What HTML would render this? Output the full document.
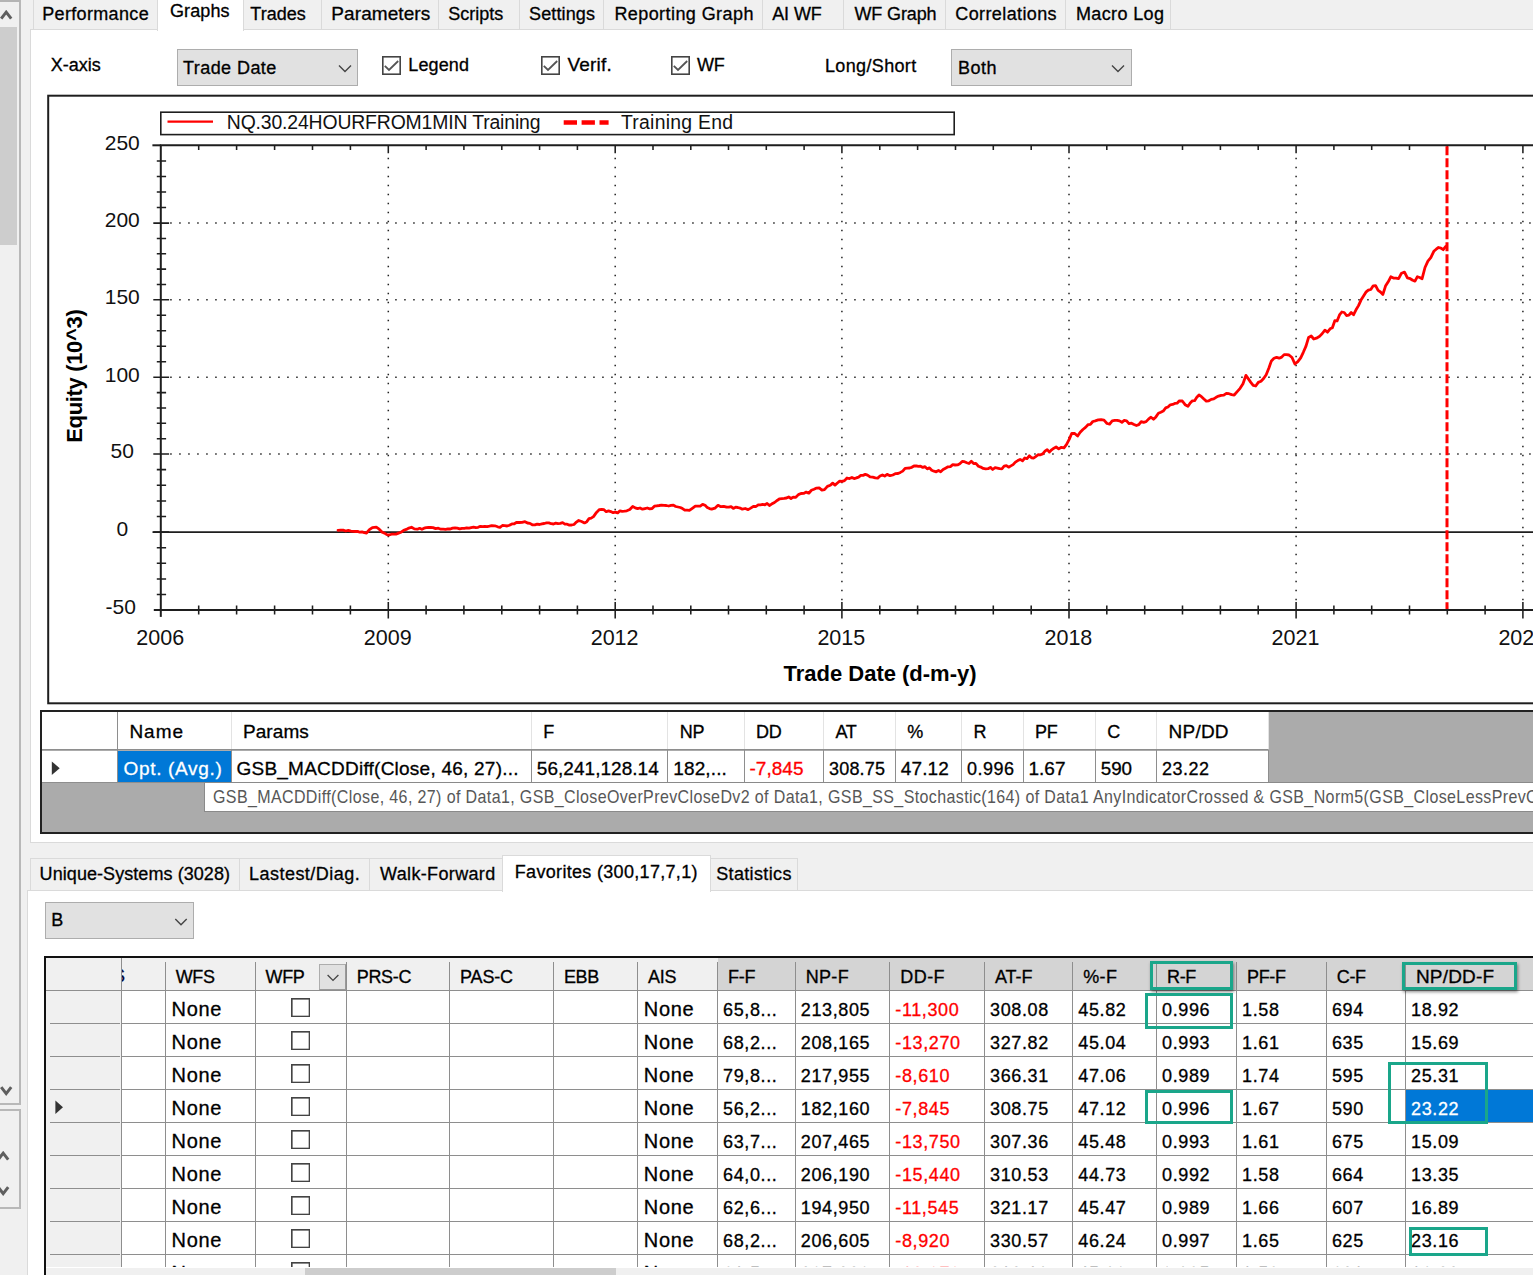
<!DOCTYPE html>
<html><head><meta charset="utf-8"><title>GSB</title>
<style>
html,body{margin:0;padding:0;}
html{width:1533px;height:1275px;overflow:hidden;}
body{width:1533px;height:1275px;overflow:hidden;background:#f0f0f0;font-family:"Liberation Sans", sans-serif;position:relative;}
.a{position:absolute;box-sizing:border-box;}
.t{position:absolute;white-space:pre;font-family:"Liberation Sans", sans-serif;-webkit-text-stroke:0.3px currentColor;}
svg{position:absolute;left:0;top:0;}
#root{position:absolute;left:0;top:0;width:1533px;height:1275px;overflow:hidden;contain:strict;}
</style></head><body><div id="root">
<div class="a " style="left:30px;top:29px;width:1510px;height:814px;background:#fff;border:1px solid #dadada;"></div>
<div class="a " style="left:33px;top:-3px;width:125.80000000000001px;height:33px;background:#f0f0f0;border:1px solid #dadada;"></div>
<span class="t" style="left:42.20px;top:4.00px;font-size:18px;line-height:20px;color:#000;letter-spacing:0.345px;">Performance</span>
<div class="a " style="left:156.8px;top:-3px;width:87.19999999999999px;height:34px;background:#fff;border:1px solid #dadada;border-bottom:none;"></div>
<span class="t" style="left:170.00px;top:1.00px;font-size:18px;line-height:20px;color:#000;letter-spacing:0.094px;">Graphs</span>
<div class="a " style="left:243px;top:-3px;width:79.39999999999998px;height:33px;background:#f0f0f0;border:1px solid #dadada;"></div>
<span class="t" style="left:250.30px;top:4.00px;font-size:18px;line-height:20px;color:#000;letter-spacing:0.029px;">Trades</span>
<div class="a " style="left:321.4px;top:-3px;width:117.90000000000003px;height:33px;background:#f0f0f0;border:1px solid #dadada;"></div>
<span class="t" style="left:331.30px;top:3.00px;font-size:19.0px;line-height:21px;color:#000;letter-spacing:0.088px;">Parameters</span>
<div class="a " style="left:438.3px;top:-3px;width:81.90000000000003px;height:33px;background:#f0f0f0;border:1px solid #dadada;"></div>
<span class="t" style="left:448.20px;top:4.00px;font-size:18px;line-height:20px;color:#000;">Scripts</span>
<div class="a " style="left:519.2px;top:-3px;width:85.0px;height:33px;background:#f0f0f0;border:1px solid #dadada;"></div>
<span class="t" style="left:529.00px;top:4.00px;font-size:18px;line-height:20px;color:#000;letter-spacing:0.137px;">Settings</span>
<div class="a " style="left:603.2px;top:-3px;width:160.0999999999999px;height:33px;background:#f0f0f0;border:1px solid #dadada;"></div>
<span class="t" style="left:614.40px;top:4.00px;font-size:18px;line-height:20px;color:#000;letter-spacing:0.423px;">Reporting Graph</span>
<div class="a " style="left:762.3px;top:-3px;width:81.90000000000009px;height:33px;background:#f0f0f0;border:1px solid #dadada;"></div>
<span class="t" style="left:772.20px;top:4.00px;font-size:18px;line-height:20px;color:#000;letter-spacing:-0.098px;">AI WF</span>
<div class="a " style="left:843.2px;top:-3px;width:102.79999999999995px;height:33px;background:#f0f0f0;border:1px solid #dadada;"></div>
<span class="t" style="left:854.40px;top:4.00px;font-size:18px;line-height:20px;color:#000;letter-spacing:-0.116px;">WF Graph</span>
<div class="a " style="left:945px;top:-3px;width:121.20000000000005px;height:33px;background:#f0f0f0;border:1px solid #dadada;"></div>
<span class="t" style="left:955.30px;top:4.00px;font-size:18px;line-height:20px;color:#000;letter-spacing:0.387px;">Correlations</span>
<div class="a " style="left:1065.2px;top:-3px;width:105.79999999999995px;height:33px;background:#f0f0f0;border:1px solid #dadada;"></div>
<span class="t" style="left:1076.00px;top:4.00px;font-size:18px;line-height:20px;color:#000;letter-spacing:0.369px;">Macro Log</span>
<span class="t" style="left:50.80px;top:55.00px;font-size:18px;line-height:20px;color:#000;">X-axis</span>
<div class="a " style="left:176.6px;top:48.6px;width:181.3px;height:37px;background:#e1e1e1;border:1px solid #adadad;"></div>
<span class="t" style="left:183.00px;top:58.00px;font-size:18px;line-height:20px;color:#000;letter-spacing:0.436px;">Trade Date</span>
<svg class="a" style="left:336.59999999999997px;top:62.599999999999994px" width="16" height="12" viewBox="0 0 16 12"><path d="M2 2.5 L8 8.5 L14 2.5" fill="none" stroke="#444" stroke-width="1.4"/></svg>
<div class="a " style="left:950.9px;top:48.6px;width:180.8px;height:37px;background:#e1e1e1;border:1px solid #adadad;"></div>
<span class="t" style="left:958.00px;top:58.00px;font-size:18px;line-height:20px;color:#000;letter-spacing:0.490px;">Both</span>
<svg class="a" style="left:1110.4px;top:62.599999999999994px" width="16" height="12" viewBox="0 0 16 12"><path d="M2 2.5 L8 8.5 L14 2.5" fill="none" stroke="#444" stroke-width="1.4"/></svg>
<svg class="a" style="left:382.2px;top:56.3px" width="19" height="19" viewBox="0 0 19 19"><rect x="0.8" y="0.8" width="17.4" height="17.4" fill="#fff" stroke="#444" stroke-width="1.6"/><path d="M2.8 9.8 L7 14 L16.2 5" fill="none" stroke="#555" stroke-width="1.8"/></svg>
<span class="t" style="left:408.30px;top:55.00px;font-size:18px;line-height:20px;color:#000;letter-spacing:0.127px;">Legend</span>
<svg class="a" style="left:541.4px;top:56.3px" width="19" height="19" viewBox="0 0 19 19"><rect x="0.8" y="0.8" width="17.4" height="17.4" fill="#fff" stroke="#444" stroke-width="1.6"/><path d="M2.8 9.8 L7 14 L16.2 5" fill="none" stroke="#555" stroke-width="1.8"/></svg>
<span class="t" style="left:567.50px;top:54.00px;font-size:19.0px;line-height:21px;color:#000;letter-spacing:0.200px;">Verif.</span>
<svg class="a" style="left:670.5px;top:56.3px" width="19" height="19" viewBox="0 0 19 19"><rect x="0.8" y="0.8" width="17.4" height="17.4" fill="#fff" stroke="#444" stroke-width="1.6"/><path d="M2.8 9.8 L7 14 L16.2 5" fill="none" stroke="#555" stroke-width="1.8"/></svg>
<span class="t" style="left:697.00px;top:55.00px;font-size:18px;line-height:20px;color:#000;letter-spacing:-0.350px;">WF</span>
<span class="t" style="left:825.00px;top:56.00px;font-size:18px;line-height:20px;color:#000;letter-spacing:0.348px;">Long/Short</span>
<svg width="1533" height="710" viewBox="0 0 1533 710" style="position:absolute;left:0;top:0" font-family='"Liberation Sans", sans-serif'>
<rect x="48.2" y="95.7" width="1500" height="607.6" fill="#fff" stroke="#1e1e1e" stroke-width="2"/>
<line x1="170.2" y1="223.1" x2="1533" y2="223.1" stroke="#222" stroke-width="1.5" stroke-dasharray="1.5 7.5"/>
<line x1="170.2" y1="299.8" x2="1533" y2="299.8" stroke="#222" stroke-width="1.5" stroke-dasharray="1.5 7.5"/>
<line x1="170.2" y1="377.3" x2="1533" y2="377.3" stroke="#222" stroke-width="1.5" stroke-dasharray="1.5 7.5"/>
<line x1="170.2" y1="454.0" x2="1533" y2="454.0" stroke="#222" stroke-width="1.5" stroke-dasharray="1.5 7.5"/>
<line x1="388.3" y1="157.7" x2="388.3" y2="602.1" stroke="#222" stroke-width="1.5" stroke-dasharray="1.5 7.5"/>
<line x1="615.2" y1="157.7" x2="615.2" y2="602.1" stroke="#222" stroke-width="1.5" stroke-dasharray="1.5 7.5"/>
<line x1="841.9" y1="157.7" x2="841.9" y2="602.1" stroke="#222" stroke-width="1.5" stroke-dasharray="1.5 7.5"/>
<line x1="1069.0" y1="157.7" x2="1069.0" y2="602.1" stroke="#222" stroke-width="1.5" stroke-dasharray="1.5 7.5"/>
<line x1="1296.1" y1="157.7" x2="1296.1" y2="602.1" stroke="#222" stroke-width="1.5" stroke-dasharray="1.5 7.5"/>
<line x1="1522.9" y1="157.7" x2="1522.9" y2="602.1" stroke="#222" stroke-width="1.5" stroke-dasharray="1.5 7.5"/>
<line x1="152.5" y1="532.1" x2="1533" y2="532.1" stroke="#1e1e1e" stroke-width="1.6"/>
<path d="M160.8 610.1 V145.3 H1540 M153.8 610.1 H1540" fill="none" stroke="#1e1e1e" stroke-width="2"/>
<line x1="160.8" y1="610.1" x2="160.8" y2="616.9" stroke="#1e1e1e" stroke-width="2"/>
<line x1="152.4" y1="145.3" x2="160.8" y2="145.3" stroke="#1e1e1e" stroke-width="2"/>
<path d="M156.8 160.9 H166.10000000000002 M156.8 176.4 H166.10000000000002 M156.8 192.0 H166.10000000000002 M156.8 207.5 H166.10000000000002 M153.3 223.1 H169.10000000000002 M156.8 238.4 H166.10000000000002 M156.8 253.8 H166.10000000000002 M156.8 269.1 H166.10000000000002 M156.8 284.5 H166.10000000000002 M153.3 299.8 H169.10000000000002 M156.8 315.3 H166.10000000000002 M156.8 330.8 H166.10000000000002 M156.8 346.3 H166.10000000000002 M156.8 361.8 H166.10000000000002 M153.3 377.3 H169.10000000000002 M156.8 392.6 H166.10000000000002 M156.8 408.0 H166.10000000000002 M156.8 423.3 H166.10000000000002 M156.8 438.7 H166.10000000000002 M153.3 454.0 H169.10000000000002 M156.8 469.6 H166.10000000000002 M156.8 485.2 H166.10000000000002 M156.8 500.9 H166.10000000000002 M156.8 516.5 H166.10000000000002 M153.3 532.1 H169.10000000000002 M156.8 547.7 H166.10000000000002 M156.8 563.3 H166.10000000000002 M156.8 578.9 H166.10000000000002 M156.8 594.5 H166.10000000000002 M198.7 145.3 V150.0 M198.7 605.5 V614.4 M236.6 145.3 V150.0 M236.6 605.5 V614.4 M274.6 145.3 V150.0 M274.6 605.5 V614.4 M312.5 145.3 V150.0 M312.5 605.5 V614.4 M350.4 145.3 V150.0 M350.4 605.5 V614.4 M388.3 145.3 V153.3 M388.3 601.9 V618.5 M426.1 145.3 V150.0 M426.1 605.5 V614.4 M463.9 145.3 V150.0 M463.9 605.5 V614.4 M501.8 145.3 V150.0 M501.8 605.5 V614.4 M539.6 145.3 V150.0 M539.6 605.5 V614.4 M577.4 145.3 V150.0 M577.4 605.5 V614.4 M615.2 145.3 V153.3 M615.2 601.9 V618.5 M653.0 145.3 V150.0 M653.0 605.5 V614.4 M690.8 145.3 V150.0 M690.8 605.5 V614.4 M728.5 145.3 V150.0 M728.5 605.5 V614.4 M766.3 145.3 V150.0 M766.3 605.5 V614.4 M804.1 145.3 V150.0 M804.1 605.5 V614.4 M841.9 145.3 V153.3 M841.9 601.9 V618.5 M879.8 145.3 V150.0 M879.8 605.5 V614.4 M917.6 145.3 V150.0 M917.6 605.5 V614.4 M955.5 145.3 V150.0 M955.5 605.5 V614.4 M993.3 145.3 V150.0 M993.3 605.5 V614.4 M1031.2 145.3 V150.0 M1031.2 605.5 V614.4 M1069.0 145.3 V153.3 M1069.0 601.9 V618.5 M1106.8 145.3 V150.0 M1106.8 605.5 V614.4 M1144.7 145.3 V150.0 M1144.7 605.5 V614.4 M1182.5 145.3 V150.0 M1182.5 605.5 V614.4 M1220.4 145.3 V150.0 M1220.4 605.5 V614.4 M1258.2 145.3 V150.0 M1258.2 605.5 V614.4 M1296.1 145.3 V153.3 M1296.1 601.9 V618.5 M1333.9 145.3 V150.0 M1333.9 605.5 V614.4 M1371.7 145.3 V150.0 M1371.7 605.5 V614.4 M1409.5 145.3 V150.0 M1409.5 605.5 V614.4 M1447.3 145.3 V150.0 M1447.3 605.5 V614.4 M1485.1 145.3 V150.0 M1485.1 605.5 V614.4 M1522.9 145.3 V153.3 M1522.9 601.9 V618.5" fill="none" stroke="#1e1e1e" stroke-width="1.55"/>
<text x="122.3" y="149.5" font-size="21" text-anchor="middle" fill="#111">250</text>
<text x="122.3" y="227.3" font-size="21" text-anchor="middle" fill="#111">200</text>
<text x="122.3" y="304.0" font-size="21" text-anchor="middle" fill="#111">150</text>
<text x="122.3" y="381.5" font-size="21" text-anchor="middle" fill="#111">100</text>
<text x="122.3" y="458.2" font-size="21" text-anchor="middle" fill="#111">50</text>
<text x="122.3" y="536.3" font-size="21" text-anchor="middle" fill="#111">0</text>
<text x="120.8" y="614.3" font-size="21" text-anchor="middle" fill="#111">-50</text>
<text x="160.20000000000002" y="645.2" font-size="21.5" text-anchor="middle" fill="#111">2006</text>
<text x="387.7" y="645.2" font-size="21.5" text-anchor="middle" fill="#111">2009</text>
<text x="614.6" y="645.2" font-size="21.5" text-anchor="middle" fill="#111">2012</text>
<text x="841.3" y="645.2" font-size="21.5" text-anchor="middle" fill="#111">2015</text>
<text x="1068.4" y="645.2" font-size="21.5" text-anchor="middle" fill="#111">2018</text>
<text x="1295.5" y="645.2" font-size="21.5" text-anchor="middle" fill="#111">2021</text>
<text x="1522.3000000000002" y="645.2" font-size="21.5" text-anchor="middle" fill="#111">2024</text>
<text x="880" y="680.8" font-size="22" font-weight="bold" text-anchor="middle" fill="#000" textLength="193">Trade Date (d-m-y)</text>
<text transform="translate(82.4,376) rotate(-90)" font-size="22" font-weight="bold" text-anchor="middle" fill="#000" textLength="133.5">Equity (10^3)</text>
<rect x="160.8" y="112.2" width="793.4" height="22.4" fill="#fff" stroke="#1e1e1e" stroke-width="1.6"/>
<line x1="167.5" y1="121.6" x2="213" y2="121.6" stroke="#f00" stroke-width="2.2"/>
<text x="226.8" y="128.6" font-size="19.4" fill="#111" textLength="313.7">NQ.30.24HOURFROM1MIN Training</text>
<line x1="563.7" y1="122.5" x2="608.6" y2="122.5" stroke="#f00" stroke-width="4.3" stroke-dasharray="13.3 4.6"/>
<text x="621" y="128.6" font-size="19.4" fill="#111" textLength="112">Training End</text>
<line x1="1447" y1="146.3" x2="1447" y2="609.1" stroke="#f00" stroke-width="3" stroke-dasharray="9 3"/>
<path d="M338.0 530.3 L340.6 530.2 L343.2 530.2 L345.7 531.0 L348.3 530.4 L350.9 531.1 L353.1 531.4 L355.4 531.5 L357.6 531.4 L359.8 532.2 L362.0 531.9 L364.3 532.6 L366.5 533.0 L369.4 529.7 L372.4 527.6 L376.3 527.2 L379.2 529.2 L382.2 532.3 L384.5 533.1 L386.9 534.6 L389.2 535.0 L391.4 534.2 L393.7 534.1 L395.9 534.2 L398.5 533.1 L401.1 532.2 L403.7 530.3 L406.3 529.4 L408.9 528.1 L411.5 527.2 L414.4 528.9 L417.4 529.2 L419.6 528.3 L421.9 529.3 L424.1 528.2 L426.3 527.7 L428.5 527.5 L430.8 527.5 L433.0 527.6 L435.6 528.6 L438.3 528.2 L440.9 529.2 L443.2 529.2 L445.6 529.3 L447.9 528.8 L450.3 529.0 L452.6 528.1 L455.0 528.0 L457.3 528.2 L459.7 528.9 L462.0 528.4 L464.4 528.4 L466.7 527.9 L469.0 528.1 L471.2 527.6 L473.5 527.1 L475.8 527.7 L478.1 527.3 L480.4 526.3 L482.7 526.7 L484.9 526.3 L487.2 526.7 L489.5 526.2 L491.8 525.6 L494.8 525.8 L497.7 526.8 L500.0 527.3 L502.4 525.5 L504.7 525.7 L507.1 526.0 L509.4 525.2 L511.9 523.9 L514.3 523.8 L516.8 522.3 L519.2 522.5 L522.1 522.4 L525.0 521.7 L527.5 523.0 L529.9 523.4 L532.3 524.8 L534.8 524.9 L537.2 524.1 L539.5 524.5 L541.9 523.9 L544.2 523.5 L546.6 522.9 L548.9 522.9 L551.2 523.7 L553.5 524.0 L555.7 523.1 L558.0 523.6 L560.3 523.3 L562.6 522.6 L564.9 524.1 L567.1 524.2 L569.4 525.1 L571.7 525.0 L574.0 524.5 L576.4 522.1 L578.7 520.5 L581.6 521.5 L584.5 522.9 L586.8 521.7 L589.0 518.7 L591.2 518.1 L593.5 516.6 L596.5 512.4 L599.4 509.6 L601.7 509.3 L604.0 509.7 L606.2 511.7 L608.5 510.9 L610.8 511.6 L613.1 512.7 L615.4 512.1 L617.7 512.9 L620.0 510.8 L622.2 511.3 L624.5 511.2 L626.8 510.8 L629.8 509.5 L632.7 506.5 L635.2 507.9 L637.6 508.7 L640.0 508.0 L642.5 509.2 L644.9 508.6 L647.3 508.0 L649.7 508.8 L652.1 508.5 L654.4 506.2 L656.8 505.8 L659.2 505.5 L661.6 505.1 L664.0 505.3 L666.3 505.5 L668.7 506.0 L671.0 505.4 L673.4 505.1 L675.7 506.5 L678.0 507.0 L680.3 507.5 L682.5 508.6 L684.8 510.2 L687.1 510.2 L689.4 510.4 L692.3 508.3 L695.3 506.1 L697.8 506.2 L700.2 506.1 L702.6 504.4 L705.1 505.3 L707.3 507.6 L709.5 508.6 L711.7 509.2 L714.9 508.2 L718.0 505.3 L720.9 506.7 L723.7 506.3 L726.6 507.2 L728.8 507.2 L731.1 506.7 L733.3 508.4 L735.6 507.2 L737.8 507.5 L740.1 508.1 L742.3 509.2 L745.2 508.5 L748.1 509.6 L750.7 508.1 L753.4 506.3 L756.0 506.5 L758.2 504.8 L760.5 504.9 L762.7 504.4 L764.9 504.8 L767.1 503.5 L769.4 505.5 L771.6 504.1 L774.5 502.5 L777.5 500.2 L779.7 498.8 L782.0 498.6 L784.2 498.4 L786.5 498.0 L788.7 496.9 L791.0 498.5 L793.2 497.1 L795.8 497.3 L798.4 494.6 L801.0 493.5 L803.6 493.4 L806.2 492.1 L808.8 493.2 L811.4 490.3 L814.0 489.3 L816.6 488.1 L819.2 487.9 L821.9 490.1 L824.5 489.6 L827.4 486.4 L830.3 485.3 L832.7 483.1 L835.0 485.1 L837.4 483.0 L839.7 481.1 L842.1 481.4 L844.5 480.6 L847.0 478.0 L849.5 478.6 L851.9 477.5 L854.1 478.6 L856.4 477.9 L858.6 477.1 L860.8 475.4 L863.0 475.4 L865.3 474.4 L867.5 475.1 L870.1 476.9 L872.7 477.1 L875.3 477.9 L877.7 478.1 L880.0 476.0 L882.4 474.9 L884.7 476.1 L887.1 474.4 L890.0 475.7 L892.8 475.0 L895.7 473.6 L898.0 473.5 L900.4 472.4 L902.7 471.1 L905.1 468.3 L907.4 468.1 L909.6 468.0 L911.8 467.3 L914.0 466.0 L916.2 465.8 L918.4 466.4 L920.6 466.2 L922.8 467.4 L925.0 466.6 L927.2 468.9 L929.5 467.9 L931.7 470.3 L934.0 471.2 L936.2 471.8 L938.5 470.5 L940.7 471.7 L943.1 469.5 L945.5 468.2 L948.0 466.8 L950.4 466.6 L952.8 464.6 L955.1 465.0 L957.5 464.9 L959.8 463.7 L962.2 461.5 L964.5 461.7 L966.8 462.7 L969.0 463.5 L971.3 461.3 L973.6 463.6 L975.9 463.4 L978.4 466.2 L980.8 467.1 L983.2 468.4 L985.7 468.9 L988.0 468.7 L990.4 467.4 L992.7 469.5 L995.1 467.7 L997.4 468.1 L999.6 468.7 L1001.9 468.8 L1004.1 466.2 L1006.4 465.7 L1008.6 467.2 L1010.9 465.9 L1013.1 464.6 L1015.4 462.1 L1017.8 460.6 L1020.1 459.4 L1022.5 460.8 L1024.8 458.0 L1027.0 458.7 L1029.3 455.8 L1031.5 457.8 L1033.8 458.0 L1036.0 456.3 L1038.3 454.7 L1040.5 454.8 L1042.7 453.9 L1045.0 451.2 L1047.2 449.6 L1049.4 452.1 L1051.6 449.8 L1053.9 448.2 L1056.1 447.0 L1058.7 448.9 L1061.4 447.3 L1064.0 447.8 L1066.6 444.4 L1069.2 439.4 L1071.8 433.3 L1074.7 433.5 L1077.6 436.0 L1080.2 432.2 L1082.9 429.5 L1085.5 427.4 L1088.0 424.7 L1090.4 424.4 L1092.8 421.5 L1095.3 420.8 L1098.2 419.9 L1101.1 419.6 L1104.0 420.1 L1107.0 423.5 L1109.6 424.1 L1112.2 420.8 L1114.8 420.4 L1117.2 420.3 L1119.5 420.9 L1121.9 422.3 L1124.2 420.4 L1126.6 420.8 L1129.0 423.7 L1131.5 423.2 L1134.0 424.5 L1136.4 425.5 L1138.8 424.6 L1141.2 421.6 L1143.7 422.3 L1146.1 421.6 L1148.5 419.1 L1151.0 417.2 L1153.5 419.3 L1155.9 416.9 L1158.4 413.3 L1160.8 412.3 L1163.2 411.1 L1165.7 407.9 L1168.0 407.0 L1170.3 404.8 L1172.6 404.4 L1174.8 403.4 L1177.1 403.2 L1179.4 400.8 L1182.3 401.0 L1185.1 404.7 L1188.0 406.3 L1190.2 403.0 L1192.4 400.8 L1194.6 400.7 L1196.8 397.3 L1199.0 395.0 L1201.5 396.7 L1203.9 399.0 L1206.3 401.1 L1208.8 400.8 L1211.2 399.4 L1213.7 398.9 L1216.1 397.3 L1218.6 396.1 L1221.2 395.3 L1223.8 395.2 L1226.4 393.4 L1229.0 393.7 L1231.6 394.6 L1234.2 395.0 L1237.2 391.6 L1240.1 388.3 L1243.0 383.8 L1245.9 375.4 L1248.4 378.9 L1250.8 382.4 L1253.2 385.4 L1255.7 386.0 L1258.3 382.4 L1261.0 381.3 L1263.6 378.5 L1266.2 374.7 L1268.8 368.3 L1271.4 360.9 L1274.0 358.3 L1276.6 357.4 L1279.2 358.2 L1281.7 357.1 L1284.1 354.6 L1286.5 354.6 L1289.0 355.0 L1292.0 357.5 L1294.9 364.0 L1297.8 361.7 L1300.7 357.8 L1303.3 352.3 L1306.0 346.1 L1308.6 337.4 L1311.2 336.0 L1313.8 339.0 L1316.4 338.2 L1319.3 336.6 L1322.3 333.5 L1324.9 330.2 L1327.5 332.2 L1330.1 328.8 L1332.4 327.7 L1334.8 320.7 L1337.1 320.9 L1339.5 314.9 L1341.8 312.0 L1344.2 312.5 L1346.5 315.5 L1348.9 315.2 L1351.2 312.5 L1353.6 314.7 L1356.0 309.8 L1358.5 305.6 L1361.0 300.1 L1363.4 296.3 L1365.9 292.2 L1368.3 290.2 L1370.8 289.5 L1373.2 285.8 L1375.6 285.6 L1378.1 290.4 L1380.5 292.0 L1382.9 294.4 L1385.5 286.1 L1388.2 281.8 L1390.8 276.8 L1393.4 278.1 L1396.0 278.1 L1398.6 278.7 L1401.5 273.2 L1404.5 272.1 L1407.4 277.9 L1410.3 278.7 L1412.7 280.2 L1415.0 281.1 L1417.4 276.7 L1419.7 277.5 L1422.1 278.7 L1425.0 267.5 L1427.9 261.1 L1430.8 257.6 L1433.8 251.3 L1436.2 249.2 L1438.5 247.5 L1440.9 248.1 L1443.2 249.7 L1445.6 246.6" fill="none" stroke="#f00" stroke-width="2.8" stroke-linejoin="round" stroke-linecap="round"/>
</svg>
<div class="a " style="left:40px;top:710px;width:1510px;height:124px;background:#ababab;border:2px solid #222;"></div>
<div class="a " style="left:42px;top:712px;width:1226.3px;height:37.5px;background:#fff;"></div>
<div class="a" style="left:42px;top:749px;width:1226.3px;height:1px;background:#8e8e8e"></div>
<div class="a " style="left:42px;top:750.5px;width:1226.3px;height:32.5px;background:#fff;"></div>
<div class="a" style="left:42px;top:782px;width:1226.3px;height:1px;background:#8e8e8e"></div>
<div class="a" style="left:117px;top:712px;width:1px;height:71px;background:#8e8e8e"></div>
<div class="a" style="left:231px;top:712px;width:1px;height:37px;background:#e3e3e3"></div>
<div class="a" style="left:231px;top:750px;width:1px;height:33px;background:#8e8e8e"></div>
<span class="t" style="left:129.40px;top:721.00px;font-size:19.0px;line-height:21px;color:#000;letter-spacing:1.005px;">Name</span>
<div class="a " style="left:118px;top:750.6px;width:112.8px;height:31.8px;background:#0078d7;"></div>
<span class="t" style="left:123.50px;top:758.00px;font-size:19.0px;line-height:21px;color:#fff;letter-spacing:0.679px;">Opt. (Avg.)</span>
<div class="a" style="left:531px;top:712px;width:1px;height:37px;background:#e3e3e3"></div>
<div class="a" style="left:531px;top:750px;width:1px;height:33px;background:#8e8e8e"></div>
<span class="t" style="left:243.00px;top:721.00px;font-size:19.0px;line-height:21px;color:#000;letter-spacing:0.067px;">Params</span>
<span class="t" style="left:236.50px;top:758.00px;font-size:19.0px;line-height:21px;color:#000;letter-spacing:0.233px;">GSB_MACDDiff(Close, 46, 27)...</span>
<div class="a" style="left:667px;top:712px;width:1px;height:37px;background:#e3e3e3"></div>
<div class="a" style="left:667px;top:750px;width:1px;height:33px;background:#8e8e8e"></div>
<span class="t" style="left:543.30px;top:722.00px;font-size:18px;line-height:20px;color:#000;">F</span>
<span class="t" style="left:536.80px;top:758.00px;font-size:19.0px;line-height:21px;color:#000;letter-spacing:0.041px;">56,241,128.14</span>
<div class="a" style="left:744px;top:712px;width:1px;height:37px;background:#e3e3e3"></div>
<div class="a" style="left:744px;top:750px;width:1px;height:33px;background:#8e8e8e"></div>
<span class="t" style="left:679.80px;top:722.00px;font-size:18px;line-height:20px;color:#000;letter-spacing:-0.206px;">NP</span>
<span class="t" style="left:673.30px;top:758.00px;font-size:19.0px;line-height:21px;color:#000;letter-spacing:0.114px;">182,...</span>
<div class="a" style="left:823px;top:712px;width:1px;height:37px;background:#e3e3e3"></div>
<div class="a" style="left:823px;top:750px;width:1px;height:33px;background:#8e8e8e"></div>
<span class="t" style="left:756.00px;top:722.00px;font-size:18px;line-height:20px;color:#000;letter-spacing:-0.350px;">DD</span>
<span class="t" style="left:749.50px;top:758.00px;font-size:19.0px;line-height:21px;color:#f00;letter-spacing:0.025px;">-7,845</span>
<div class="a" style="left:895px;top:712px;width:1px;height:37px;background:#e3e3e3"></div>
<div class="a" style="left:895px;top:750px;width:1px;height:33px;background:#8e8e8e"></div>
<span class="t" style="left:835.50px;top:722.00px;font-size:18px;line-height:20px;color:#000;letter-spacing:-0.350px;">AT</span>
<span class="t" style="left:829.00px;top:759.00px;font-size:18px;line-height:20px;color:#000;letter-spacing:0.189px;">308.75</span>
<div class="a" style="left:961px;top:712px;width:1px;height:37px;background:#e3e3e3"></div>
<div class="a" style="left:961px;top:750px;width:1px;height:33px;background:#8e8e8e"></div>
<span class="t" style="left:907.30px;top:722.00px;font-size:18px;line-height:20px;color:#000;">%</span>
<span class="t" style="left:900.80px;top:758.00px;font-size:19.0px;line-height:21px;color:#000;letter-spacing:0.113px;">47.12</span>
<div class="a" style="left:1023px;top:712px;width:1px;height:37px;background:#e3e3e3"></div>
<div class="a" style="left:1023px;top:750px;width:1px;height:33px;background:#8e8e8e"></div>
<span class="t" style="left:973.40px;top:722.00px;font-size:18px;line-height:20px;color:#000;">R</span>
<span class="t" style="left:966.90px;top:759.00px;font-size:18px;line-height:20px;color:#000;letter-spacing:0.489px;">0.996</span>
<div class="a" style="left:1095px;top:712px;width:1px;height:37px;background:#e3e3e3"></div>
<div class="a" style="left:1095px;top:750px;width:1px;height:33px;background:#8e8e8e"></div>
<span class="t" style="left:1035.00px;top:722.00px;font-size:18px;line-height:20px;color:#000;letter-spacing:-0.350px;">PF</span>
<span class="t" style="left:1028.50px;top:758.00px;font-size:19.0px;line-height:21px;color:#000;letter-spacing:0.007px;">1.67</span>
<div class="a" style="left:1156px;top:712px;width:1px;height:37px;background:#e3e3e3"></div>
<div class="a" style="left:1156px;top:750px;width:1px;height:33px;background:#8e8e8e"></div>
<span class="t" style="left:1107.30px;top:722.00px;font-size:18px;line-height:20px;color:#000;">C</span>
<span class="t" style="left:1100.80px;top:758.00px;font-size:18.8px;line-height:21px;color:#000;letter-spacing:-0.034px;">590</span>
<div class="a" style="left:1268px;top:712px;width:1px;height:37px;background:#e3e3e3"></div>
<div class="a" style="left:1268px;top:750px;width:1px;height:33px;background:#8e8e8e"></div>
<span class="t" style="left:1168.60px;top:721.00px;font-size:19.0px;line-height:21px;color:#000;letter-spacing:0.221px;">NP/DD</span>
<span class="t" style="left:1162.10px;top:759.00px;font-size:18px;line-height:20px;color:#000;letter-spacing:0.489px;">23.22</span>
<svg class="a" style="left:50px;top:760px" width="12" height="16"><path d="M1.8 1.4 L9.7 8.2 L1.8 15 Z" fill="#333"/></svg>
<div class="a " style="left:204px;top:782px;width:1400px;height:30px;background:#fff;border:1px solid #8a8a8a;"></div>
<span class="t" style="left:213.40px;top:787.00px;font-size:17.8px;line-height:20px;color:#575757;letter-spacing:0.425px;-webkit-text-stroke:0;transform:scaleX(0.9);transform-origin:0 0;">GSB_MACDDiff(Close, 46, 27) of Data1, GSB_CloseOverPrevCloseDv2 of Data1, GSB_SS_Stochastic(164) of Data1 AnyIndicatorCrossed &amp; GSB_Norm5(GSB_CloseLessPrevC</span>
<div class="a " style="left:27px;top:889.5px;width:1520px;height:400px;background:#fff;border:1px solid #dadada;"></div>
<div class="a " style="left:30.4px;top:857.5px;width:209.29999999999998px;height:33px;background:#f0f0f0;border:1px solid #dadada;"></div>
<span class="t" style="left:39.60px;top:864.00px;font-size:18px;line-height:20px;color:#000;letter-spacing:0.066px;">Unique-Systems (3028)</span>
<div class="a " style="left:238.7px;top:857.5px;width:131.3px;height:33px;background:#f0f0f0;border:1px solid #dadada;"></div>
<span class="t" style="left:249.00px;top:864.00px;font-size:18px;line-height:20px;color:#000;letter-spacing:0.470px;">Lastest/Diag.</span>
<div class="a " style="left:369px;top:857.5px;width:135px;height:33px;background:#f0f0f0;border:1px solid #dadada;"></div>
<span class="t" style="left:380.00px;top:864.00px;font-size:18px;line-height:20px;color:#000;letter-spacing:0.351px;">Walk-Forward</span>
<div class="a " style="left:502px;top:854.5px;width:208.70000000000005px;height:37px;background:#fff;border:1px solid #dadada;border-bottom:none;"></div>
<span class="t" style="left:514.80px;top:862.00px;font-size:18px;line-height:20px;color:#000;letter-spacing:0.315px;">Favorites (300,17,7,1)</span>
<div class="a " style="left:709.7px;top:857.5px;width:87.89999999999998px;height:33px;background:#f0f0f0;border:1px solid #dadada;"></div>
<span class="t" style="left:716.20px;top:864.00px;font-size:18px;line-height:20px;color:#000;letter-spacing:0.354px;">Statistics</span>
<div class="a " style="left:44.8px;top:902.4px;width:149.5px;height:36.2px;background:#e1e1e1;border:1px solid #adadad;"></div>
<span class="t" style="left:51.30px;top:910.00px;font-size:18px;line-height:20px;color:#000;">B</span>
<svg class="a" style="left:173px;top:915.5px" width="16" height="12" viewBox="0 0 16 12"><path d="M2.3 3 L8 8.8 L13.7 3" fill="none" stroke="#444" stroke-width="1.4"/></svg>
<div class="a " style="left:44px;top:956px;width:1500px;height:330px;background:#fff;border:2px solid #111;border-bottom:none;border-right:none;"></div>
<div class="a " style="left:46px;top:958px;width:671.5px;height:32.200000000000045px;background:#f0f0f0;"></div>
<div class="a " style="left:717.5px;top:958px;width:815.5px;height:32.200000000000045px;background:#d4d4d4;"></div>
<div class="a" style="left:46px;top:990px;width:1494px;height:1px;background:#8e8e8e"></div>
<div class="a " style="left:46px;top:991px;width:75.3px;height:300px;background:#f0f0f0;"></div>
<div class="a" style="left:121px;top:958px;width:1px;height:332px;background:#8e8e8e"></div>
<div class="a" style="left:165px;top:962px;width:1px;height:28px;background:#8e8e8e"></div>
<div class="a" style="left:165px;top:990px;width:1px;height:300px;background:#8e8e8e"></div>
<div class="a" style="left:255px;top:962px;width:1px;height:28px;background:#8e8e8e"></div>
<div class="a" style="left:255px;top:990px;width:1px;height:300px;background:#8e8e8e"></div>
<span class="t" style="left:175.70px;top:967.00px;font-size:18px;line-height:20px;color:#000;letter-spacing:-0.350px;">WFS</span>
<div class="a" style="left:346px;top:962px;width:1px;height:28px;background:#8e8e8e"></div>
<div class="a" style="left:346px;top:990px;width:1px;height:300px;background:#8e8e8e"></div>
<span class="t" style="left:265.50px;top:967.00px;font-size:18px;line-height:20px;color:#000;letter-spacing:-0.350px;">WFP</span>
<div class="a" style="left:449px;top:962px;width:1px;height:28px;background:#8e8e8e"></div>
<div class="a" style="left:449px;top:990px;width:1px;height:300px;background:#8e8e8e"></div>
<span class="t" style="left:356.80px;top:967.00px;font-size:18px;line-height:20px;color:#000;letter-spacing:-0.350px;">PRS-C</span>
<div class="a" style="left:553px;top:962px;width:1px;height:28px;background:#8e8e8e"></div>
<div class="a" style="left:553px;top:990px;width:1px;height:300px;background:#8e8e8e"></div>
<span class="t" style="left:460.10px;top:967.00px;font-size:18px;line-height:20px;color:#000;letter-spacing:-0.169px;">PAS-C</span>
<div class="a" style="left:637px;top:962px;width:1px;height:28px;background:#8e8e8e"></div>
<div class="a" style="left:637px;top:990px;width:1px;height:300px;background:#8e8e8e"></div>
<span class="t" style="left:563.90px;top:967.00px;font-size:18px;line-height:20px;color:#000;letter-spacing:-0.350px;">EBB</span>
<div class="a" style="left:717px;top:962px;width:1px;height:28px;background:#8e8e8e"></div>
<div class="a" style="left:717px;top:990px;width:1px;height:300px;background:#8e8e8e"></div>
<span class="t" style="left:647.90px;top:967.00px;font-size:18px;line-height:20px;color:#000;letter-spacing:-0.157px;">AIS</span>
<div class="a" style="left:795px;top:962px;width:1px;height:28px;background:#8e8e8e"></div>
<div class="a" style="left:795px;top:990px;width:1px;height:300px;background:#8e8e8e"></div>
<span class="t" style="left:728.00px;top:967.00px;font-size:18px;line-height:20px;color:#000;letter-spacing:-0.293px;">F-F</span>
<div class="a" style="left:889px;top:962px;width:1px;height:28px;background:#8e8e8e"></div>
<div class="a" style="left:889px;top:990px;width:1px;height:300px;background:#8e8e8e"></div>
<span class="t" style="left:805.70px;top:967.00px;font-size:18px;line-height:20px;color:#000;letter-spacing:0.335px;">NP-F</span>
<div class="a" style="left:984px;top:962px;width:1px;height:28px;background:#8e8e8e"></div>
<div class="a" style="left:984px;top:990px;width:1px;height:300px;background:#8e8e8e"></div>
<span class="t" style="left:900.20px;top:967.00px;font-size:18px;line-height:20px;color:#000;letter-spacing:0.470px;">DD-F</span>
<div class="a" style="left:1072px;top:962px;width:1px;height:28px;background:#8e8e8e"></div>
<div class="a" style="left:1072px;top:990px;width:1px;height:300px;background:#8e8e8e"></div>
<span class="t" style="left:994.90px;top:967.00px;font-size:18px;line-height:20px;color:#000;letter-spacing:-0.021px;">AT-F</span>
<div class="a" style="left:1156px;top:962px;width:1px;height:28px;background:#8e8e8e"></div>
<div class="a" style="left:1156px;top:990px;width:1px;height:300px;background:#8e8e8e"></div>
<span class="t" style="left:1083.20px;top:967.00px;font-size:18px;line-height:20px;color:#000;letter-spacing:0.403px;">%-F</span>
<div class="a" style="left:1236px;top:962px;width:1px;height:28px;background:#8e8e8e"></div>
<div class="a" style="left:1236px;top:990px;width:1px;height:300px;background:#8e8e8e"></div>
<span class="t" style="left:1167.00px;top:967.00px;font-size:18px;line-height:20px;color:#000;letter-spacing:-0.350px;">R-F</span>
<div class="a" style="left:1326px;top:962px;width:1px;height:28px;background:#8e8e8e"></div>
<div class="a" style="left:1326px;top:990px;width:1px;height:300px;background:#8e8e8e"></div>
<span class="t" style="left:1247.00px;top:967.00px;font-size:18px;line-height:20px;color:#000;letter-spacing:-0.350px;">PF-F</span>
<div class="a" style="left:1405px;top:962px;width:1px;height:28px;background:#8e8e8e"></div>
<div class="a" style="left:1405px;top:990px;width:1px;height:300px;background:#8e8e8e"></div>
<span class="t" style="left:1336.80px;top:967.00px;font-size:18px;line-height:20px;color:#000;letter-spacing:-0.350px;">C-F</span>
<span class="t" style="left:1415.90px;top:966.00px;font-size:19.0px;line-height:21px;color:#000;letter-spacing:0.192px;">NP/DD-F</span>
<div class="a" style="left:121.6px;top:962px;width:3px;height:26px;overflow:hidden"><span class="t" style="left:-8.5px;top:5.2px;font-size:18px;line-height:18px;color:#003">S</span></div>
<div class="a " style="left:319.3px;top:964px;width:26.5px;height:26.4px;background:#e1e1e1;border:1px solid #adadad;border-right-color:#999;border-bottom-color:#999;"></div>
<svg class="a" style="left:324.5px;top:971.5px" width="16" height="12" viewBox="0 0 16 12"><path d="M2.6 3 L8 8.4 L13.4 3" fill="none" stroke="#444" stroke-width="1.3"/></svg>
<div class="a" style="left:122px;top:1023px;width:1418px;height:1px;background:#8e8e8e"></div>
<div class="a" style="left:50px;top:1023px;width:69.5px;height:1px;background:#8e8e8e"></div>
<span class="t" style="left:171.60px;top:998.00px;font-size:20.0px;line-height:22px;color:#000;letter-spacing:0.662px;">None</span>
<svg class="a" style="left:290.9px;top:997.9px" width="19.3" height="19.3" viewBox="0 0 19 19"><rect x="0.8" y="0.8" width="17.4" height="17.4" fill="#fff" stroke="#444" stroke-width="1.6"/></svg>
<span class="t" style="left:643.80px;top:998.00px;font-size:20.0px;line-height:22px;color:#000;letter-spacing:0.662px;">None</span>
<span class="t" style="left:723.10px;top:1000.00px;font-size:18px;line-height:20px;color:#000;letter-spacing:0.62px;">65,8...</span>
<span class="t" style="left:800.80px;top:1000.00px;font-size:18px;line-height:20px;color:#000;letter-spacing:0.62px;">213,805</span>
<span class="t" style="left:895.30px;top:1000.00px;font-size:18px;line-height:20px;color:#f00;letter-spacing:0.62px;">-11,300</span>
<span class="t" style="left:990.00px;top:1000.00px;font-size:18px;line-height:20px;color:#000;letter-spacing:0.62px;">308.08</span>
<span class="t" style="left:1078.30px;top:1000.00px;font-size:18px;line-height:20px;color:#000;letter-spacing:0.62px;">45.82</span>
<span class="t" style="left:1162.10px;top:1000.00px;font-size:18px;line-height:20px;color:#000;letter-spacing:0.62px;">0.996</span>
<span class="t" style="left:1242.10px;top:1000.00px;font-size:18px;line-height:20px;color:#000;letter-spacing:0.62px;">1.58</span>
<span class="t" style="left:1331.90px;top:1000.00px;font-size:18px;line-height:20px;color:#000;letter-spacing:0.62px;">694</span>
<span class="t" style="left:1411.00px;top:1000.00px;font-size:18px;line-height:20px;color:#000;letter-spacing:0.62px;">18.92</span>
<div class="a" style="left:122px;top:1056px;width:1418px;height:1px;background:#8e8e8e"></div>
<div class="a" style="left:50px;top:1056px;width:69.5px;height:1px;background:#8e8e8e"></div>
<span class="t" style="left:171.60px;top:1031.00px;font-size:20.0px;line-height:22px;color:#000;letter-spacing:0.662px;">None</span>
<svg class="a" style="left:290.9px;top:1030.9px" width="19.3" height="19.3" viewBox="0 0 19 19"><rect x="0.8" y="0.8" width="17.4" height="17.4" fill="#fff" stroke="#444" stroke-width="1.6"/></svg>
<span class="t" style="left:643.80px;top:1031.00px;font-size:20.0px;line-height:22px;color:#000;letter-spacing:0.662px;">None</span>
<span class="t" style="left:723.10px;top:1033.00px;font-size:18px;line-height:20px;color:#000;letter-spacing:0.62px;">68,2...</span>
<span class="t" style="left:800.80px;top:1033.00px;font-size:18px;line-height:20px;color:#000;letter-spacing:0.62px;">208,165</span>
<span class="t" style="left:895.30px;top:1033.00px;font-size:18px;line-height:20px;color:#f00;letter-spacing:0.62px;">-13,270</span>
<span class="t" style="left:990.00px;top:1033.00px;font-size:18px;line-height:20px;color:#000;letter-spacing:0.62px;">327.82</span>
<span class="t" style="left:1078.30px;top:1033.00px;font-size:18px;line-height:20px;color:#000;letter-spacing:0.62px;">45.04</span>
<span class="t" style="left:1162.10px;top:1033.00px;font-size:18px;line-height:20px;color:#000;letter-spacing:0.62px;">0.993</span>
<span class="t" style="left:1242.10px;top:1033.00px;font-size:18px;line-height:20px;color:#000;letter-spacing:0.62px;">1.61</span>
<span class="t" style="left:1331.90px;top:1033.00px;font-size:18px;line-height:20px;color:#000;letter-spacing:0.62px;">635</span>
<span class="t" style="left:1411.00px;top:1033.00px;font-size:18px;line-height:20px;color:#000;letter-spacing:0.62px;">15.69</span>
<div class="a" style="left:122px;top:1089px;width:1418px;height:1px;background:#8e8e8e"></div>
<div class="a" style="left:50px;top:1089px;width:69.5px;height:1px;background:#8e8e8e"></div>
<span class="t" style="left:171.60px;top:1064.00px;font-size:20.0px;line-height:22px;color:#000;letter-spacing:0.662px;">None</span>
<svg class="a" style="left:290.9px;top:1063.9px" width="19.3" height="19.3" viewBox="0 0 19 19"><rect x="0.8" y="0.8" width="17.4" height="17.4" fill="#fff" stroke="#444" stroke-width="1.6"/></svg>
<span class="t" style="left:643.80px;top:1064.00px;font-size:20.0px;line-height:22px;color:#000;letter-spacing:0.662px;">None</span>
<span class="t" style="left:723.10px;top:1066.00px;font-size:18px;line-height:20px;color:#000;letter-spacing:0.62px;">79,8...</span>
<span class="t" style="left:800.80px;top:1066.00px;font-size:18px;line-height:20px;color:#000;letter-spacing:0.62px;">217,955</span>
<span class="t" style="left:895.30px;top:1066.00px;font-size:18px;line-height:20px;color:#f00;letter-spacing:0.62px;">-8,610</span>
<span class="t" style="left:990.00px;top:1066.00px;font-size:18px;line-height:20px;color:#000;letter-spacing:0.62px;">366.31</span>
<span class="t" style="left:1078.30px;top:1066.00px;font-size:18px;line-height:20px;color:#000;letter-spacing:0.62px;">47.06</span>
<span class="t" style="left:1162.10px;top:1066.00px;font-size:18px;line-height:20px;color:#000;letter-spacing:0.62px;">0.989</span>
<span class="t" style="left:1242.10px;top:1066.00px;font-size:18px;line-height:20px;color:#000;letter-spacing:0.62px;">1.74</span>
<span class="t" style="left:1331.90px;top:1066.00px;font-size:18px;line-height:20px;color:#000;letter-spacing:0.62px;">595</span>
<span class="t" style="left:1411.00px;top:1066.00px;font-size:18px;line-height:20px;color:#000;letter-spacing:0.62px;">25.31</span>
<div class="a" style="left:122px;top:1122px;width:1418px;height:1px;background:#8e8e8e"></div>
<div class="a" style="left:50px;top:1122px;width:69.5px;height:1px;background:#8e8e8e"></div>
<span class="t" style="left:171.60px;top:1097.00px;font-size:20.0px;line-height:22px;color:#000;letter-spacing:0.662px;">None</span>
<svg class="a" style="left:290.9px;top:1096.9px" width="19.3" height="19.3" viewBox="0 0 19 19"><rect x="0.8" y="0.8" width="17.4" height="17.4" fill="#fff" stroke="#444" stroke-width="1.6"/></svg>
<span class="t" style="left:643.80px;top:1097.00px;font-size:20.0px;line-height:22px;color:#000;letter-spacing:0.662px;">None</span>
<span class="t" style="left:723.10px;top:1099.00px;font-size:18px;line-height:20px;color:#000;letter-spacing:0.62px;">56,2...</span>
<span class="t" style="left:800.80px;top:1099.00px;font-size:18px;line-height:20px;color:#000;letter-spacing:0.62px;">182,160</span>
<span class="t" style="left:895.30px;top:1099.00px;font-size:18px;line-height:20px;color:#f00;letter-spacing:0.62px;">-7,845</span>
<span class="t" style="left:990.00px;top:1099.00px;font-size:18px;line-height:20px;color:#000;letter-spacing:0.62px;">308.75</span>
<span class="t" style="left:1078.30px;top:1099.00px;font-size:18px;line-height:20px;color:#000;letter-spacing:0.62px;">47.12</span>
<span class="t" style="left:1162.10px;top:1099.00px;font-size:18px;line-height:20px;color:#000;letter-spacing:0.62px;">0.996</span>
<span class="t" style="left:1242.10px;top:1099.00px;font-size:18px;line-height:20px;color:#000;letter-spacing:0.62px;">1.67</span>
<span class="t" style="left:1331.90px;top:1099.00px;font-size:18px;line-height:20px;color:#000;letter-spacing:0.62px;">590</span>
<div class="a " style="left:1406px;top:1090px;width:200px;height:32px;background:#0078d7;"></div>
<span class="t" style="left:1411.00px;top:1099.00px;font-size:18px;line-height:20px;color:#fff;letter-spacing:0.62px;">23.22</span>
<div class="a" style="left:122px;top:1155px;width:1418px;height:1px;background:#8e8e8e"></div>
<div class="a" style="left:50px;top:1155px;width:69.5px;height:1px;background:#8e8e8e"></div>
<span class="t" style="left:171.60px;top:1130.00px;font-size:20.0px;line-height:22px;color:#000;letter-spacing:0.662px;">None</span>
<svg class="a" style="left:290.9px;top:1129.9px" width="19.3" height="19.3" viewBox="0 0 19 19"><rect x="0.8" y="0.8" width="17.4" height="17.4" fill="#fff" stroke="#444" stroke-width="1.6"/></svg>
<span class="t" style="left:643.80px;top:1130.00px;font-size:20.0px;line-height:22px;color:#000;letter-spacing:0.662px;">None</span>
<span class="t" style="left:723.10px;top:1132.00px;font-size:18px;line-height:20px;color:#000;letter-spacing:0.62px;">63,7...</span>
<span class="t" style="left:800.80px;top:1132.00px;font-size:18px;line-height:20px;color:#000;letter-spacing:0.62px;">207,465</span>
<span class="t" style="left:895.30px;top:1132.00px;font-size:18px;line-height:20px;color:#f00;letter-spacing:0.62px;">-13,750</span>
<span class="t" style="left:990.00px;top:1132.00px;font-size:18px;line-height:20px;color:#000;letter-spacing:0.62px;">307.36</span>
<span class="t" style="left:1078.30px;top:1132.00px;font-size:18px;line-height:20px;color:#000;letter-spacing:0.62px;">45.48</span>
<span class="t" style="left:1162.10px;top:1132.00px;font-size:18px;line-height:20px;color:#000;letter-spacing:0.62px;">0.993</span>
<span class="t" style="left:1242.10px;top:1132.00px;font-size:18px;line-height:20px;color:#000;letter-spacing:0.62px;">1.61</span>
<span class="t" style="left:1331.90px;top:1132.00px;font-size:18px;line-height:20px;color:#000;letter-spacing:0.62px;">675</span>
<span class="t" style="left:1411.00px;top:1132.00px;font-size:18px;line-height:20px;color:#000;letter-spacing:0.62px;">15.09</span>
<div class="a" style="left:122px;top:1188px;width:1418px;height:1px;background:#8e8e8e"></div>
<div class="a" style="left:50px;top:1188px;width:69.5px;height:1px;background:#8e8e8e"></div>
<span class="t" style="left:171.60px;top:1163.00px;font-size:20.0px;line-height:22px;color:#000;letter-spacing:0.662px;">None</span>
<svg class="a" style="left:290.9px;top:1162.9px" width="19.3" height="19.3" viewBox="0 0 19 19"><rect x="0.8" y="0.8" width="17.4" height="17.4" fill="#fff" stroke="#444" stroke-width="1.6"/></svg>
<span class="t" style="left:643.80px;top:1163.00px;font-size:20.0px;line-height:22px;color:#000;letter-spacing:0.662px;">None</span>
<span class="t" style="left:723.10px;top:1165.00px;font-size:18px;line-height:20px;color:#000;letter-spacing:0.62px;">64,0...</span>
<span class="t" style="left:800.80px;top:1165.00px;font-size:18px;line-height:20px;color:#000;letter-spacing:0.62px;">206,190</span>
<span class="t" style="left:895.30px;top:1165.00px;font-size:18px;line-height:20px;color:#f00;letter-spacing:0.62px;">-15,440</span>
<span class="t" style="left:990.00px;top:1165.00px;font-size:18px;line-height:20px;color:#000;letter-spacing:0.62px;">310.53</span>
<span class="t" style="left:1078.30px;top:1165.00px;font-size:18px;line-height:20px;color:#000;letter-spacing:0.62px;">44.73</span>
<span class="t" style="left:1162.10px;top:1165.00px;font-size:18px;line-height:20px;color:#000;letter-spacing:0.62px;">0.992</span>
<span class="t" style="left:1242.10px;top:1165.00px;font-size:18px;line-height:20px;color:#000;letter-spacing:0.62px;">1.58</span>
<span class="t" style="left:1331.90px;top:1165.00px;font-size:18px;line-height:20px;color:#000;letter-spacing:0.62px;">664</span>
<span class="t" style="left:1411.00px;top:1165.00px;font-size:18px;line-height:20px;color:#000;letter-spacing:0.62px;">13.35</span>
<div class="a" style="left:122px;top:1221px;width:1418px;height:1px;background:#8e8e8e"></div>
<div class="a" style="left:50px;top:1221px;width:69.5px;height:1px;background:#8e8e8e"></div>
<span class="t" style="left:171.60px;top:1196.00px;font-size:20.0px;line-height:22px;color:#000;letter-spacing:0.662px;">None</span>
<svg class="a" style="left:290.9px;top:1195.9px" width="19.3" height="19.3" viewBox="0 0 19 19"><rect x="0.8" y="0.8" width="17.4" height="17.4" fill="#fff" stroke="#444" stroke-width="1.6"/></svg>
<span class="t" style="left:643.80px;top:1196.00px;font-size:20.0px;line-height:22px;color:#000;letter-spacing:0.662px;">None</span>
<span class="t" style="left:723.10px;top:1198.00px;font-size:18px;line-height:20px;color:#000;letter-spacing:0.62px;">62,6...</span>
<span class="t" style="left:800.80px;top:1198.00px;font-size:18px;line-height:20px;color:#000;letter-spacing:0.62px;">194,950</span>
<span class="t" style="left:895.30px;top:1198.00px;font-size:18px;line-height:20px;color:#f00;letter-spacing:0.62px;">-11,545</span>
<span class="t" style="left:990.00px;top:1198.00px;font-size:18px;line-height:20px;color:#000;letter-spacing:0.62px;">321.17</span>
<span class="t" style="left:1078.30px;top:1198.00px;font-size:18px;line-height:20px;color:#000;letter-spacing:0.62px;">45.47</span>
<span class="t" style="left:1162.10px;top:1198.00px;font-size:18px;line-height:20px;color:#000;letter-spacing:0.62px;">0.989</span>
<span class="t" style="left:1242.10px;top:1198.00px;font-size:18px;line-height:20px;color:#000;letter-spacing:0.62px;">1.66</span>
<span class="t" style="left:1331.90px;top:1198.00px;font-size:18px;line-height:20px;color:#000;letter-spacing:0.62px;">607</span>
<span class="t" style="left:1411.00px;top:1198.00px;font-size:18px;line-height:20px;color:#000;letter-spacing:0.62px;">16.89</span>
<div class="a" style="left:122px;top:1254px;width:1418px;height:1px;background:#8e8e8e"></div>
<div class="a" style="left:50px;top:1254px;width:69.5px;height:1px;background:#8e8e8e"></div>
<span class="t" style="left:171.60px;top:1229.00px;font-size:20.0px;line-height:22px;color:#000;letter-spacing:0.662px;">None</span>
<svg class="a" style="left:290.9px;top:1228.9px" width="19.3" height="19.3" viewBox="0 0 19 19"><rect x="0.8" y="0.8" width="17.4" height="17.4" fill="#fff" stroke="#444" stroke-width="1.6"/></svg>
<span class="t" style="left:643.80px;top:1229.00px;font-size:20.0px;line-height:22px;color:#000;letter-spacing:0.662px;">None</span>
<span class="t" style="left:723.10px;top:1231.00px;font-size:18px;line-height:20px;color:#000;letter-spacing:0.62px;">68,2...</span>
<span class="t" style="left:800.80px;top:1231.00px;font-size:18px;line-height:20px;color:#000;letter-spacing:0.62px;">206,605</span>
<span class="t" style="left:895.30px;top:1231.00px;font-size:18px;line-height:20px;color:#f00;letter-spacing:0.62px;">-8,920</span>
<span class="t" style="left:990.00px;top:1231.00px;font-size:18px;line-height:20px;color:#000;letter-spacing:0.62px;">330.57</span>
<span class="t" style="left:1078.30px;top:1231.00px;font-size:18px;line-height:20px;color:#000;letter-spacing:0.62px;">46.24</span>
<span class="t" style="left:1162.10px;top:1231.00px;font-size:18px;line-height:20px;color:#000;letter-spacing:0.62px;">0.997</span>
<span class="t" style="left:1242.10px;top:1231.00px;font-size:18px;line-height:20px;color:#000;letter-spacing:0.62px;">1.65</span>
<span class="t" style="left:1331.90px;top:1231.00px;font-size:18px;line-height:20px;color:#000;letter-spacing:0.62px;">625</span>
<span class="t" style="left:1411.00px;top:1231.00px;font-size:18px;line-height:20px;color:#000;letter-spacing:0.62px;">23.16</span>
<div class="a" style="left:122px;top:1287px;width:1418px;height:1px;background:#8e8e8e"></div>
<div class="a" style="left:50px;top:1287px;width:69.5px;height:1px;background:#8e8e8e"></div>
<span class="t" style="left:171.60px;top:1262.00px;font-size:20.0px;line-height:22px;color:#000;letter-spacing:0.662px;">None</span>
<svg class="a" style="left:290.9px;top:1261.9px" width="19.3" height="19.3" viewBox="0 0 19 19"><rect x="0.8" y="0.8" width="17.4" height="17.4" fill="#fff" stroke="#444" stroke-width="1.6"/></svg>
<span class="t" style="left:643.80px;top:1262.00px;font-size:20.0px;line-height:22px;color:#000;letter-spacing:0.662px;">None</span>
<span class="t" style="left:723.10px;top:1264.00px;font-size:18px;line-height:20px;color:#000;letter-spacing:0.62px;">61,5...</span>
<span class="t" style="left:800.80px;top:1264.00px;font-size:18px;line-height:20px;color:#000;letter-spacing:0.62px;">207,330</span>
<span class="t" style="left:895.30px;top:1264.00px;font-size:18px;line-height:20px;color:#f00;letter-spacing:0.62px;">-12,070</span>
<span class="t" style="left:990.00px;top:1264.00px;font-size:18px;line-height:20px;color:#000;letter-spacing:0.62px;">312.19</span>
<span class="t" style="left:1078.30px;top:1264.00px;font-size:18px;line-height:20px;color:#000;letter-spacing:0.62px;">45.90</span>
<span class="t" style="left:1162.10px;top:1264.00px;font-size:18px;line-height:20px;color:#000;letter-spacing:0.62px;">0.995</span>
<span class="t" style="left:1242.10px;top:1264.00px;font-size:18px;line-height:20px;color:#000;letter-spacing:0.62px;">1.59</span>
<span class="t" style="left:1331.90px;top:1264.00px;font-size:18px;line-height:20px;color:#000;letter-spacing:0.62px;">681</span>
<span class="t" style="left:1411.00px;top:1264.00px;font-size:18px;line-height:20px;color:#000;letter-spacing:0.62px;">16.82</span>
<svg class="a" style="left:54px;top:1098.5px" width="12" height="17"><path d="M1.4 1.4 L9 8.2 L1.4 15 Z" fill="#333"/></svg>
<div class="a " style="left:1150.2px;top:961.4px;width:82.39999999999986px;height:29.0px;border:3px solid #1aa68a;box-shadow:1px 2px 3px rgba(0,0,0,0.45);"></div>
<div class="a " style="left:1401.5px;top:961.8px;width:115.0px;height:28.600000000000023px;border:3px solid #1aa68a;box-shadow:1px 2px 3px rgba(0,0,0,0.45);"></div>
<div class="a " style="left:1145px;top:992.6px;width:87.59999999999991px;height:35.999999999999886px;border:3px solid #1aa68a;"></div>
<div class="a " style="left:1145px;top:1089.6px;width:87.59999999999991px;height:34.0px;border:3px solid #1aa68a;"></div>
<div class="a " style="left:1388px;top:1062.4px;width:99.59999999999991px;height:61.19999999999982px;border:3px solid #1aa68a;"></div>
<div class="a " style="left:1409.2px;top:1226.6px;width:78.39999999999986px;height:29.0px;border:3px solid #1aa68a;"></div>
<div class="a " style="left:46px;top:1267px;width:1500px;height:1px;background:#fff;"></div>
<div class="a " style="left:46px;top:1268px;width:1500px;height:10px;background:#f0f0f0;"></div>
<div class="a " style="left:305px;top:1268px;width:310.5px;height:10px;background:#cdcdcd;"></div>
<div class="a " style="left:0px;top:0px;width:19px;height:1275px;background:#f0f0f0;"></div>
<div class="a " style="left:0px;top:27px;width:17px;height:218px;background:#cdcdcd;"></div>
<div class="a " style="left:18.6px;top:0px;width:2px;height:1104.6px;background:#b8b8b8;"></div>
<div class="a " style="left:0px;top:0px;width:20.4px;height:1.8px;background:#b4b4b4;"></div>
<div class="a " style="left:0px;top:1102.6px;width:20.6px;height:2px;background:#b8b8b8;"></div>
<div class="a " style="left:-2px;top:1109px;width:22.6px;height:99.5px;border:2px solid #b8b8b8;"></div>
<svg class="a" style="left:0px;top:9.6px" width="14" height="11.6"><path d="M1.2 8.6 L6.2 2.2 L11.2 8.6" fill="none" stroke="#5f5f5f" stroke-width="3"/></svg>
<svg class="a" style="left:0.3px;top:1085.3px" width="14" height="11.6"><path d="M1.2 2.2 L6.2 8.6 L11.2 2.2" fill="none" stroke="#5f5f5f" stroke-width="3"/></svg>
<svg class="a" style="left:-2.8px;top:1151.2px" width="14" height="11.6"><path d="M1.2 8.6 L6.2 2.2 L11.2 8.6" fill="none" stroke="#5f5f5f" stroke-width="3"/></svg>
<svg class="a" style="left:-2.8px;top:1184.7px" width="14" height="11.6"><path d="M1.2 2.2 L6.2 8.6 L11.2 2.2" fill="none" stroke="#5f5f5f" stroke-width="3"/></svg>
</div></body></html>
